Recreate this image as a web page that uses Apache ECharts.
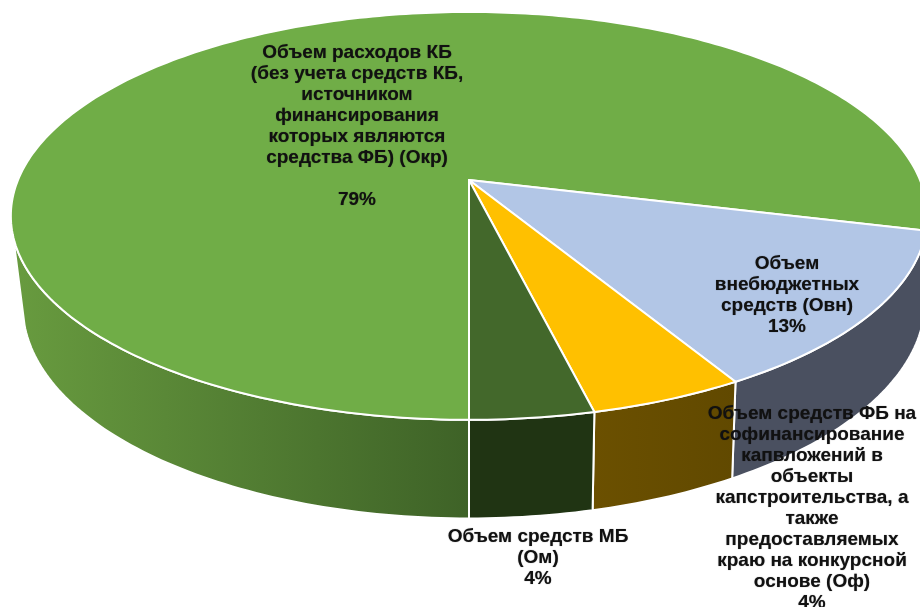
<!DOCTYPE html>
<html>
<head>
<meta charset="utf-8">
<style>
  html, body { margin: 0; padding: 0; background: #fff; }
  #main { width: 920px; height: 607px; overflow: hidden; }
</style>
<script src="https://cdn.jsdelivr.net/npm/echarts@6/dist/echarts.min.js"></script>
</head>
<body>
<div id="main"></div>
<script>
// данные диаграммы
var sliceNames = [
  'Объем расходов КБ\n(без учета средств КБ,\nисточником\nфинансирования\nкоторых являются\nсредства ФБ) (Окр)\n',
  'Объем\nвнебюджетных\nсредств (Овн)',
  'Объем средств ФБ на\nсофинансирование\nкапвложений в\nобъекты\nкапстроительства, а\nтакже\nпредоставляемых\nкраю на конкурсной\nоснове (Оф)',
  'Объем средств МБ\n(Ом)'
];
// доли считаны по углам секторов на картинке, подписи - как напечатано
var sliceValues = [78.95, 12.7, 4.65, 3.7];
var sliceLabels = ['79%', '13%', '4%', '4%'];

// оформление
var topColors = ['#70AD47', '#B2C6E6', '#FFC000', '#43682B'];
var wallFrom = ['#689B3F', '#4A5060', '#6B5000', '#203413'];
var wallTo = ['#3E6227', '#4A5060', '#614900', '#203413'];
var labelAnchors = [[357, 42], [787, 253], [812, 403], [538, 526]];

var startDeg = 180;   // первый сектор начинается снизу, идем по часовой
var total = sliceValues.reduce(function (a, b) { return a + b; }, 0);

// перспективная проекция круга: верхняя грань и нижняя
function project(deg, bottom) {
  var rad = deg * Math.PI / 180;
  var u = Math.sin(rad), v = -Math.cos(rad);
  var w = 1 - 0.176 * v;
  if (bottom) {
    return [469 + 6 * (1 - v) + 444 * u / w, 266 + 208 * v / w];
  }
  return [469 + 451 * u / w, 180 + 197.6 * v / w];
}

function arc(from, to, bottom) {
  var pts = [];
  var steps = Math.max(2, Math.ceil(Math.abs(to - from)));
  for (var i = 0; i <= steps; i++) {
    pts.push(project(from + (to - from) * i / steps, bottom));
  }
  return pts;
}

// видимая часть боковой стенки
var frontFrom = 105.7, frontTo = 254.3;

function renderSlice(params, api) {
  var idx = params.dataIndex;
  var before = 0;
  for (var i = 0; i < idx; i++) before += sliceValues[i];
  var a0 = startDeg + before / total * 360;
  var a1 = a0 + api.value(0) / total * 360;

  var children = [];

  // стенка: сектор может переходить через 360 градусов
  for (var turn = -360; turn <= 0; turn += 360) {
    var f = Math.max(a0 + turn, frontFrom);
    var t = Math.min(a1 + turn, frontTo);
    if (t <= f) continue;
    var upper = arc(f, t, false);
    var lower = arc(t, f, true);
    var xs = upper.concat(lower).map(function (p) { return p[0]; });
    children.push({
      type: 'polygon',
      z2: 1,
      shape: { points: upper.concat(lower) },
      style: {
        fill: new echarts.graphic.LinearGradient(
          Math.min.apply(null, xs), 0, Math.max.apply(null, xs), 0,
          [{ offset: 0, color: wallFrom[idx] }, { offset: 1, color: wallTo[idx] }],
          true
        ),
        stroke: '#fff',
        lineWidth: 2,
        lineJoin: 'round'
      }
    });
  }

  // верхняя грань
  children.push({
    type: 'polygon',
    z2: 2,
    shape: { points: [[469, 180]].concat(arc(a0, a1, false)) },
    style: { fill: topColors[idx], stroke: '#fff', lineWidth: 2, lineJoin: 'round' }
  });

  // подпись
  children.push({
    type: 'text',
    z2: 3,
    x: labelAnchors[idx][0],
    y: labelAnchors[idx][1],
    style: {
      text: sliceNames[idx] + '\n' + sliceLabels[idx],
      fill: '#111',
      font: 'bold 19px "Liberation Sans", Arial, sans-serif',
      lineHeight: 21,
      align: 'center',
      verticalAlign: 'top',
      textShadowColor: 'rgba(0,0,0,0.5)',
      textShadowBlur: 1
    }
  });

  return { type: 'group', children: children };
}

var myChart = echarts.init(document.getElementById('main'), null, { renderer: 'canvas' });
myChart.setOption({
  animation: false,
  backgroundColor: '#fff',
  series: [{
    type: 'custom',
    coordinateSystem: 'none',
    clip: false,
    silent: true,
    renderItem: renderSlice,
    data: sliceValues.map(function (v) { return [v]; })
  }]
});
</script>
</body>
</html>
